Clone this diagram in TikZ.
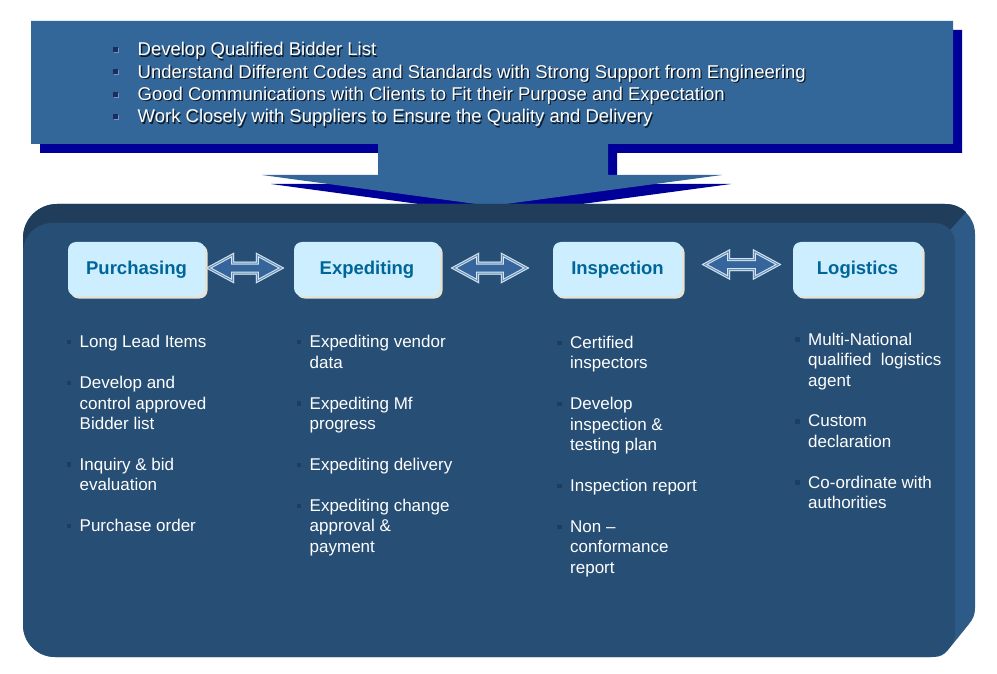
\documentclass[tikz,border=0pt]{standalone}
\usepackage{fontspec}
\setmainfont{Liberation Sans}
\usetikzlibrary{calc,shadows}
\definecolor{calloutfill}{HTML}{336699}
\definecolor{calloutshadow}{HTML}{000099}
\definecolor{panelface}{HTML}{274E74}
\definecolor{panelband}{HTML}{213D5C}
\definecolor{panelside}{HTML}{2D5A87}
\definecolor{boxfill}{HTML}{CCEEFF}
\definecolor{boxshadow}{HTML}{E6E2D4}
\definecolor{labelblue}{HTML}{006699}
\definecolor{arrowfill}{HTML}{35659A}
\definecolor{arrowline}{HTML}{D4E6F4}
\definecolor{arrowmid}{HTML}{6D92B8}
\definecolor{arrowshade}{HTML}{7F93AA}
\definecolor{bulletdark}{HTML}{1D3E63}
\definecolor{topbullet}{HTML}{1A2C60}
\definecolor{topbulletedge}{HTML}{6F95C4}
\newcommand\blockarrowpath[2]{(#1) -- ($(#1)+(24,-13)$) -- ($(#1)+(24,-5)$) -- ($(#2)+(-24,-5)$) -- ($(#2)+(-24,-13)$) -- (#2) -- ($(#2)+(-24,13)$) -- ($(#2)+(-24,5)$) -- ($(#1)+(24,5)$) -- ($(#1)+(24,13)$) -- cycle}
\newcommand\blockarrowdraw[2]{%
  \draw[arrowshade, line width=3pt, line join=miter, shift={(1.5,1.5)}] \blockarrowpath{#1}{#2};
  \draw[fill=arrowfill, draw=arrowline, double=arrowmid, line width=1pt, double distance=1pt, line join=miter] \blockarrowpath{#1}{#2};}
\begin{document}
\begin{tikzpicture}[x=1pt,y=-1pt,
  stagebox/.style={rectangle, rounded corners=8pt, fill=boxfill, inner sep=0pt,
    general shadow={fill=boxshadow, shadow xshift=2.5pt, shadow yshift=-2.5pt},
    minimum height=54pt, text height=15pt, text depth=4pt,
    font=\fontsize{18.5}{22}\selectfont\bfseries, text=labelblue},
  topline/.style={anchor=base west, inner sep=0pt, font=\fontsize{18.5}{22}\selectfont, text=white},
  topshade/.style={anchor=base west, inner sep=0pt, font=\fontsize{18.5}{22}\selectfont, text=black, opacity=0.75},
  item/.style={anchor=north west, inner sep=0pt, align=left, text=white,
    font=\fontsize{17}{20.45}\selectfont},
  itembullet/.style={fill=bulletdark, minimum size=4.5pt, inner sep=0pt},
  topsq/.style={fill=topbullet, minimum size=5pt, inner sep=0pt},
  topsqshade/.style={fill=topbulletedge, minimum size=5pt, inner sep=0pt}
]
\useasboundingbox (0,0) rectangle (997,674);

% callout shadow and callout
\fill[calloutshadow, shift={(9,9)}] (31,21) -- (953,21) -- (953,144) -- (608,144) -- (608,175) -- (722,175) -- (491,206) -- (262,175) -- (378,175) -- (378,144) -- (31,144) -- cycle;
\fill[calloutfill] (31,21) -- (953,21) -- (953,144) -- (608,144) -- (608,175) -- (722,175) -- (491,206) -- (262,175) -- (378,175) -- (378,144) -- (31,144) -- cycle;

% top bullets and text
\foreach \i/\yb/\t in {1/56/{Develop Qualified Bidder List},
  2/78.3/{Understand Different Codes and Standards with Strong Support from Engineering},
  3/100.6/{Good Communications with Clients to Fit their Purpose and Expectation},
  4/122.8/{Work Closely with Suppliers to Ensure the Quality and Delivery}}{
  \node[topsqshade] (tq\i) at (116.5,\yb-5.5) {};
  \node[topsq] (tb\i) at (115.5,\yb-6.5) {};
  \node[topshade] (ts\i) at (138.8,\yb+1.3) {\t};
  \node[topline] (tl\i) at (137.5,\yb) {\t};
}

% panel
\fill[panelside] (23,238) .. controls (23,219.2) and (38.2,204) .. (57,204) -- (945,204) .. controls (961.6,204) and (975,217.4) .. (975,234) -- (975,608) .. controls (975,615) and (973,619) .. (969,624) -- (948,650) .. controls (944,655) and (940,657) .. (933,657) -- (55,657) .. controls (37.3,657) and (23,642.7) .. (23,625) -- cycle;
\fill[panelband] (23,238) .. controls (23,219.2) and (38.2,204) .. (57,204) -- (945,204) .. controls (954,204) and (961,207) .. (966,212) -- (950,230) -- (40,230) -- (23,252) -- cycle;
\fill[panelface] (23,252) .. controls (23,236) and (36,223) .. (52,223) -- (935,223) .. controls (946,223) and (955,232) .. (955,243) -- (955,632) .. controls (955,645.8) and (943.8,657) .. (930,657) -- (55,657) .. controls (37.3,657) and (23,642.7) .. (23,625) -- cycle;

% stage boxes
\node[stagebox, minimum width=137pt] (pur) at (136.5,269) {Purchasing};
\node[stagebox, minimum width=146pt] (exp) at (367,269) {Expediting};
\node[stagebox, minimum width=129pt] (ins) at (617.5,269) {Inspection};
\node[stagebox, minimum width=129pt] (log) at (857.5,269) {Logistics};

% double block arrows between boxes
\coordinate (a1s) at ($(pur.east |- pur.center)+(3.5,-1)$);
\coordinate (a1e) at ($(exp.west |- exp.center)+(-12.5,-1)$);
\coordinate (a2s) at ($(exp.east |- exp.center)+(13.5,-1)$);
\coordinate (a2e) at ($(ins.west |- ins.center)+(-26.5,-1)$);
\coordinate (a3s) at ($(ins.east |- ins.center)+(22.5,-4.5)$);
\coordinate (a3e) at ($(log.west |- log.center)+(-14.5,-4.5)$);
\blockarrowdraw{a1s}{a1e}
\blockarrowdraw{a2s}{a2e}
\blockarrowdraw{a3s}{a3e}

% column 1
\foreach \n/\k/\t in {1/0/{\strut Long Lead Items}, 2/2/{\strut Develop and\\control approved\\Bidder list}, 3/6/{\strut Inquiry \& bid\\evaluation}, 4/9/{\strut Purchase order}}{
  \node[item] (pi\n) at (79.5,347.5+\k*20.45-14.32) {\t};
  \node[itembullet] (pb\n) at (69,347.5+\k*20.45-5.5) {};
}
% column 2
\foreach \n/\k/\t in {1/0/{\strut Expediting vendor\\data}, 2/3/{\strut Expediting Mf\\progress}, 3/6/{\strut Expediting delivery}, 4/8/{\strut Expediting change\\approval \&\\payment}}{
  \node[item] (ei\n) at (309.5,347.7+\k*20.45-14.32) {\t};
  \node[itembullet] (eb\n) at (299,347.7+\k*20.45-5.5) {};
}
% column 3
\foreach \n/\k/\t in {1/0/{\strut Certified\\inspectors}, 2/3/{\strut Develop\\inspection \&\\testing plan}, 3/7/{\strut Inspection report}, 4/9/{\strut Non –\\conformance\\report}}{
  \node[item] (ii\n) at (570,348.3+\k*20.45-14.32) {\t};
  \node[itembullet] (ib\n) at (559.5,348.3+\k*20.45-5.5) {};
}
% column 4
\foreach \n/\k/\t in {1/0/{\strut Multi-National\\qualified\ \ logistics\\agent}, 2/4/{\strut Custom\\declaration}, 3/7/{\strut Co-ordinate with\\authorities}}{
  \node[item] (li\n) at (808,345+\k*20.45-14.32) {\t};
  \node[itembullet] (lb\n) at (797.5,345+\k*20.45-5.5) {};
}
\end{tikzpicture}
\end{document}
